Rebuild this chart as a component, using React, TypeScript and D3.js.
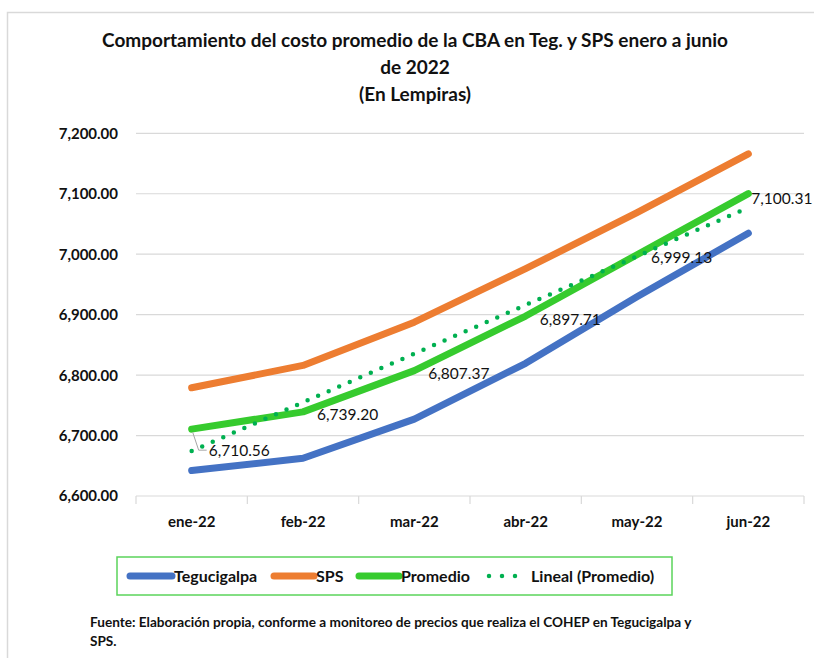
import React from "react";
import * as d3 from "d3";

// values
const categories = ["ene-22", "feb-22", "mar-22", "abr-22", "may-22", "jun-22"];
const tegucigalpa = [6642.12, 6662.4, 6727.24, 6819.42, 6929.66, 7034.62];
const sps = [6779.0, 6816.0, 6887.5, 6976.0, 7068.6, 7166.0];
const promedio = [6710.56, 6739.2, 6807.37, 6897.71, 6999.13, 7100.31];
const linealPromedio = [6674.4, 6754.9, 6835.4, 6916.0, 6996.5, 7077.1];
const yTicks = [6600, 6700, 6800, 6900, 7000, 7100, 7200];

const FONT = "Lato, 'Open Sans', sans-serif";

const colors = {
  teg: "#4472C4",
  sps: "#ED7D31",
  prom: "#36CB2E",
  trend: "#00B050",
  grid: "#D9D9D9",
};

export default function App() {
  const width = 814;
  const height = 658;
  const plot = { left: 136, right: 804, top: 133.3, bottom: 496 };

  const x = d3.scaleBand().domain(categories).range([plot.left, plot.right]);
  const cx = (c: string) => (x(c) as number) + x.bandwidth() / 2;
  const y = d3.scaleLinear().domain([6600, 7200]).range([plot.bottom, plot.top]);
  const fmt = d3.format(",.2f");

  const line = d3
    .line<number>()
    .x((_, i) => cx(categories[i]))
    .y((d) => y(d));

  const series = [
    { key: "teg", data: tegucigalpa, color: colors.teg },
    { key: "sps", data: sps, color: colors.sps },
    { key: "prom", data: promedio, color: colors.prom },
  ];

  // label offsets (Excel moved first and last label)
  const labelOffset = (i: number) => {
    if (i === 0) return [17, 21.5];
    if (i === categories.length - 1) return [3, 5];
    return [14, 3];
  };

  const boundaries = d3.range(categories.length + 1).map((i) => plot.left + i * x.bandwidth());

  const legendY = 576;
  const legendItems = [
    { label: "Tegucigalpa", color: colors.teg, x0: 130, x1: 172, tx: 174, dotted: false },
    { label: "SPS", color: colors.sps, x0: 274, x1: 314, tx: 316, dotted: false },
    { label: "Promedio", color: colors.prom, x0: 359, x1: 399, tx: 401, dotted: false },
    { label: "Lineal (Promedio)", color: colors.trend, x0: 489, x1: 528, tx: 531, dotted: true },
  ];

  const first = promedio[0];

  return (
    <svg
      width={width}
      height={height}
      style={{ position: "absolute", left: 0, top: 0, display: "block", background: "#fff" }}
      fontFamily={FONT}
    >
      <rect x={7.5} y={12.5} width={830} height={700} fill="#fff" stroke={colors.grid} strokeWidth={1.5} />

      {/* title */}
      <g textAnchor="middle" fontWeight="bold" fontSize={19} fill="#111">
        <text x={415} y={47}>Comportamiento del costo promedio de la CBA en Teg. y SPS enero a junio</text>
        <text x={415} y={74}>de 2022</text>
        <text x={415} y={101}>(En Lempiras)</text>
      </g>

      {/* grid + y axis labels */}
      <g>
        {yTicks.map((t) => (
          <g key={t}>
            {t !== 6600 && (
              <line x1={plot.left} x2={plot.right} y1={y(t)} y2={y(t)} stroke={colors.grid} strokeWidth={1.2} />
            )}
            <text
              x={118}
              y={y(t)}
              dy="0.36em"
              textAnchor="end"
              fontSize={15}
              fontWeight="bold"
              fill="#111"
            >
              {fmt(t)}
            </text>
          </g>
        ))}
      </g>

      {/* x axis */}
      <g>
        <line x1={plot.left} x2={plot.right} y1={plot.bottom} y2={plot.bottom} stroke={colors.grid} strokeWidth={1.2} />
        {boundaries.map((b, i) => (
          <line key={i} x1={b} x2={b} y1={plot.bottom} y2={plot.bottom + 8} stroke={colors.grid} strokeWidth={1.2} />
        ))}
        {categories.map((c) => (
          <text key={c} x={cx(c)} y={527} textAnchor="middle" fontSize={15} fontWeight="bold" fill="#111">
            {c}
          </text>
        ))}
      </g>

      {/* series */}
      {series.map((s) => (
        <path
          key={s.key}
          d={line(s.data) as string}
          fill="none"
          stroke={s.color}
          strokeWidth={7}
          strokeLinecap="round"
          strokeLinejoin="round"
        />
      ))}

      {/* trend */}
      <path
        d={line(linealPromedio) as string}
        fill="none"
        stroke={colors.trend}
        strokeWidth={4.5}
        strokeLinecap="round"
        strokeDasharray="0 11.5"
      />

      {/* leader line for first label */}
      <polyline
        points={`${cx(categories[0]) + 1},${y(first) + 3} ${cx(categories[0]) + 7},${y(first) + 21} ${cx(categories[0]) + 15},${y(first) + 21}`}
        fill="none"
        stroke="#A6A6A6"
        strokeWidth={1}
      />

      {/* data labels */}
      {promedio.map((v, i) => {
        const [dx, dy] = labelOffset(i);
        return (
          <text
            key={i}
            x={cx(categories[i]) + dx}
            y={y(v) + dy}
            dy="0.36em"
            fontSize={15.5}
            fill="#111"
          >
            {fmt(v)}
          </text>
        );
      })}

      {/* legend */}
      <rect x={117} y={557} width={555} height={38} fill="none" stroke="#5BD45B" strokeWidth={1.5} />
      {legendItems.map((it) => (
        <g key={it.label}>
          {it.dotted ? (
            <line
              x1={it.x0}
              x2={it.x1}
              y1={legendY}
              y2={legendY}
              stroke={it.color}
              strokeWidth={4.5}
              strokeLinecap="round"
              strokeDasharray="0 13"
            />
          ) : (
            <line
              x1={it.x0}
              x2={it.x1}
              y1={legendY}
              y2={legendY}
              stroke={it.color}
              strokeWidth={7}
              strokeLinecap="round"
            />
          )}
          <text x={it.tx} y={legendY} dy="0.36em" fontSize={16} fontWeight="bold" fill="#111">
            {it.label}
          </text>
        </g>
      ))}

      {/* source note */}
      <g fontSize={13.6} fontWeight="bold" fill="#111">
        <text x={90} y={627}>
          Fuente: Elaboración propia, conforme a monitoreo de precios que realiza el COHEP en Tegucigalpa y
        </text>
        <text x={90} y={646}>SPS.</text>
      </g>
    </svg>
  );
}
